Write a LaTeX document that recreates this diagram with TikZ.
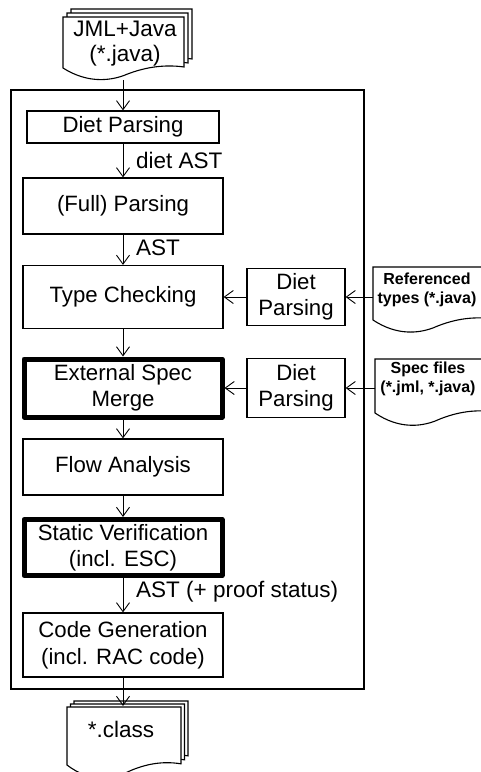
\documentclass[tikz,border=0pt]{standalone}
\usepackage{fontspec}
\setmainfont{Liberation Sans}
\usetikzlibrary{arrows.meta}

% A document sheet with a wavy lower edge: [options]{left}{top}{width}{height}
\newcommand\docsheet[5][]{%
  \draw[page,#1,shift={(#2,#3)},xscale=#4,yscale=#5]
    (0,1) -- (0,0) -- (1,0) -- (1,0.98)
    .. controls (0.82,0.92) and (0.65,1.0) .. (0.5,1.15)
    .. controls (0.38,1.25) and (0.2,1.3) .. (0,1) -- cycle;}

\tikzset{
  box/.style={draw, line width=1.2pt, fill=white, align=center, inner sep=0pt,
    font=\fontsize{22.2}{26.5}\selectfont},
  keybox/.style={box, line width=5pt, line join=round},
  flow/.style={line width=0.9pt,
    -{Straight Barb[length=9pt,width=13pt,line width=0.9pt]}},
  tag/.style={anchor=west, inner sep=0pt, font=\fontsize{22.5}{27}\selectfont},
  page/.style={draw, line width=1.1pt, fill=white},
  doctext/.style={align=center, inner sep=0pt, font=\fontsize{22.5}{25}\selectfont},
  smalldoc/.style={align=center, inner sep=0pt, font=\bfseries\fontsize{16}{19.5}\selectfont},
}

\begin{document}
\begin{tikzpicture}[x=1pt, y=-1pt]
\useasboundingbox (0,0) rectangle (481,772);
\clip (0,0) rectangle (481,772);

% compiler frame
\draw[line width=1.2pt] (11,90) rectangle (364,689);

% input sources
\docsheet{71}{9}{121}{51}
\docsheet{67}{13}{121}{51}
\docsheet{63}{17}{121}{51}
\node[doctext] (jml) at (125,44) {JML+Java\\(*.java)};
\coordinate (jmlout) at (123,80);

\docsheet{373}{267}{120}{53}
\node[smalldoc] (reft) at (427,290) {Referenced\\types (*.java)};
\coordinate (reftin) at (373,297);

\docsheet{375}{359}{120}{54}
\node[smalldoc] (spec) at (428,379) {Spec files\\(*.jml, *.java)};
\coordinate (specin) at (375,388);

% output
\docsheet{74}{701}{114}{56}
\docsheet{70.5}{704}{114}{57}
\docsheet{67}{707}{114}{58}
\node[doctext] (cls) at (121,729) {*.class};
\coordinate (clsin) at (123,706);

% compiler stages
\node[box, minimum width=192pt, minimum height=32pt] (diet) at (123,127) {Diet Parsing};
\node[box, minimum width=200pt, minimum height=56pt] (full) at (123,206) {(Full) Parsing};
\node[box, minimum width=200pt, minimum height=63pt] (type) at (123,297) {Type Checking};
\node[keybox, minimum width=198pt, minimum height=58pt] (ext) at (123,388) {External Spec\\Merge};
\node[box, minimum width=200pt, minimum height=56pt] (flowan) at (123,467) {Flow Analysis};
\node[keybox, minimum width=198pt, minimum height=56pt] (stat) at (123,547.5) {Static Verification\\(incl. ESC)};
\node[box, minimum width=200pt, minimum height=64pt] (code) at (123,645) {Code Generation\\(incl. RAC code)};

\node[box, minimum width=98pt, minimum height=57pt] (dp2) at (296,297) {Diet\\Parsing};
\node[box, minimum width=98pt, minimum height=59pt] (dp3) at (296,388) {Diet\\Parsing};

% data labels
\node[tag] (l1) at (136,160) {diet AST};
\node[tag] (l2) at (136,248) {AST};
\node[tag] (l3) at (136,592) {AST (+ proof status)};

% connectors
\draw[flow] (jmlout) -- (diet.north);
\draw[flow] (diet) -- (full);
\draw[flow] (full) -- (type);
\draw[flow] (type) -- (ext);
\draw[flow] (ext) -- (flowan);
\draw[flow] (flowan) -- (stat);
\draw[flow] (stat) -- (code);
\draw[flow] (code.south) -- (clsin);
\draw[flow] (reftin) -- (dp2.east);
\draw[flow] (dp2) -- (type);
\draw[flow] (specin) -- (dp3.east);
\draw[flow] (dp3) -- (ext);
\end{tikzpicture}
\end{document}
